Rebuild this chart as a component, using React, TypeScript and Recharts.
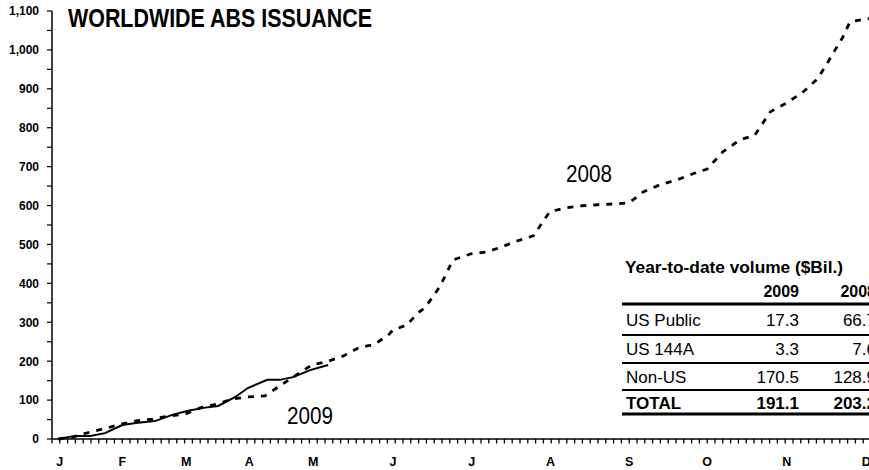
import { Line, LineChart, XAxis, YAxis } from "recharts";

// x is measured in axis ticks (two per week), y in $ billions
const X_2008 = [
  0.8, 2.7, 4.9, 7.0, 9.0, 11.0, 12.9, 14.9, 17.1, 19.0, 21.2, 23.2, 25.1, 27.3,
  28.8, 30.9, 33.3, 35.4, 37.3, 39.2, 41.4, 43.1, 43.7, 45.5, 46.9, 47.8, 48.8,
  49.7, 50.6, 51.4, 53.7, 55.8, 57.7, 59.6, 61.7, 63.8, 65.8, 67.7, 69.9, 71.9,
  74.0, 75.8, 77.9, 80.1, 82.1, 84.0, 86.0, 88.2, 90.1, 92.1, 94.2, 96.3, 98.1,
  99.4, 100.4, 101.4, 102.3, 104.5, 106.1,
];
const V_2008 = [
  0, 5, 18, 28, 39, 47, 51, 59, 64, 80, 90, 103, 108, 111, 131, 159, 190, 200,
  213, 233, 244, 267, 280, 293, 324, 337, 365, 391, 427, 460, 476, 481, 494, 509,
  522, 584, 594, 599, 602, 604, 607, 635, 653, 666, 681, 694, 738, 769, 781, 841,
  864, 892, 925, 966, 1000, 1033, 1072, 1080, 1082,
];

const X_2009 = [
  0.8, 2.9, 4.9, 6.8, 9.0, 11.0, 13.2, 15.4, 17.3, 19.4, 21.3, 23.5, 25.1, 27.6,
  29.2, 30.9, 33.1, 35.4,
];
const V_2009 = [
  0, 8, 8, 15, 36, 42, 46, 62, 72, 80, 85, 108, 131, 152, 152, 159, 177, 190,
];

const MONTHS = ["J", "F", "M", "A", "M", "J", "J", "A", "S", "O", "N", "D"];
const MONTH_POS = [1, 9, 17.2, 25.3, 33.5, 43.7, 53.8, 63.9, 74.0, 84.0, 94.2, 104.4];
const MINOR_TICKS = Array.from({ length: 107 }, (_, i) => i);
const X_TICKS = Array.from(new Set([...MINOR_TICKS, ...MONTH_POS])).sort((a, b) => a - b);
const Y_TICKS = Array.from({ length: 23 }, (_, i) => i * 50);

const TABLE_TITLE = "Year-to-date volume ($Bil.)";
const TABLE_YEARS = ["2009", "2008"];
const TABLE_ROWS = ["US Public", "US 144A", "Non-US", "TOTAL"];
const VALUES_2009 = ["17.3", "3.3", "170.5", "191.1"];
const VALUES_2008 = ["66.7", "7.6", "128.9", "203.2"];

const data2008 = X_2008.map((x, i) => ({ x, v: V_2008[i] }));
const data2009 = X_2009.map((x, i) => ({ x, v: V_2009[i] }));

const FONT = "'Liberation Sans', Arial, sans-serif";
const X_MAX = (880 - 52) / 7.8;

const YTick = (props: any) => {
  const { x, y, payload } = props;
  if (payload.value % 100 !== 0) return <g />;
  return (
    <text x={x} y={y} dy="0.36em" textAnchor="end" fontFamily={FONT} fontSize={12} fontWeight="bold" fill="#000">
      {payload.value.toLocaleString("en-US")}
    </text>
  );
};

// minor tick marks on whole ticks, month letters on month positions
const XTick = (props: any) => {
  const { x, y, payload } = props;
  const v = payload.value;
  const i = MONTH_POS.indexOf(v);
  return (
    <g>
      {Number.isInteger(v) && <line x1={x} x2={x} y1={y} y2={y + 4.5} stroke="#000" strokeWidth={1.3} />}
      {i >= 0 && (
        <text x={x} y={y + 27} textAnchor="middle" fontFamily={FONT} fontSize={12.5} fontWeight="bold" fill="#000">
          {MONTHS[i]}
        </text>
      )}
    </g>
  );
};

const ROW_BASE = [326, 355, 383, 409];
const ROW_LINES = [335, 363, 390];

export default function App() {
  return (
    <div style={{ position: "absolute", left: 0, top: 0, width: 869, height: 470, overflow: "hidden", background: "#fff" }}>
      <LineChart width={880} height={470} margin={{ top: 11, right: 0, bottom: 0, left: 0 }}>
        <YAxis
          type="number"
          domain={[0, 1100]}
          ticks={Y_TICKS}
          interval={0}
          width={52}
          tickSize={5}
          tickMargin={8}
          axisLine={{ stroke: "#000", strokeWidth: 1.5 }}
          tickLine={{ stroke: "#000", strokeWidth: 1.2 }}
          tick={YTick}
        />
        <XAxis
          type="number"
          dataKey="x"
          domain={[0, X_MAX]}
          ticks={X_TICKS}
          interval={0}
          height={31}
          tickSize={0}
          tickMargin={0}
          axisLine={{ stroke: "#000", strokeWidth: 1.5 }}
          tickLine={false}
          tick={XTick}
        />
        <Line
          data={data2008}
          dataKey="v"
          type="linear"
          stroke="#000"
          strokeWidth={2.8}
          strokeDasharray="6 7"
          dot={false}
          isAnimationActive={false}
        />
        <Line
          data={data2009}
          dataKey="v"
          type="linear"
          stroke="#000"
          strokeWidth={2}
          dot={false}
          isAnimationActive={false}
        />
      </LineChart>
      <svg width={880} height={470} style={{ position: "absolute", left: 0, top: 0, pointerEvents: "none" }} fontFamily={FONT}>
        <text x={68} y={27} fontSize={26} fontWeight="bold" textLength={304} lengthAdjust="spacingAndGlyphs">
          WORLDWIDE ABS ISSUANCE
        </text>
        <text x={566} y={182} fontSize={24} textLength={46} lengthAdjust="spacingAndGlyphs">2008</text>
        <text x={287} y={424} fontSize={24} textLength={46} lengthAdjust="spacingAndGlyphs">2009</text>

        <text x={625} y={273} fontSize={17} fontWeight="bold" textLength={218} lengthAdjust="spacingAndGlyphs">
          {TABLE_TITLE}
        </text>
        <text x={799} y={297} fontSize={16} fontWeight="bold" textAnchor="end">{TABLE_YEARS[0]}</text>
        <text x={876} y={297} fontSize={16} fontWeight="bold" textAnchor="end">{TABLE_YEARS[1]}</text>
        <line x1={622} x2={880} y1={304} y2={304} stroke="#000" strokeWidth={3} />
        {TABLE_ROWS.map((r, i) => (
          <g key={r} fontWeight={i === 3 ? "bold" : "normal"} fontSize={17}>
            <text x={626} y={ROW_BASE[i]}>{r}</text>
            <text x={799} y={ROW_BASE[i]} textAnchor="end">{VALUES_2009[i]}</text>
            <text x={876} y={ROW_BASE[i]} textAnchor="end">{VALUES_2008[i]}</text>
          </g>
        ))}
        {ROW_LINES.map((y) => (
          <line key={y} x1={622} x2={880} y1={y} y2={y} stroke="#000" strokeWidth={2} />
        ))}
        <line x1={622} x2={880} y1={414} y2={414} stroke="#000" strokeWidth={3} />
      </svg>
    </div>
  );
}
